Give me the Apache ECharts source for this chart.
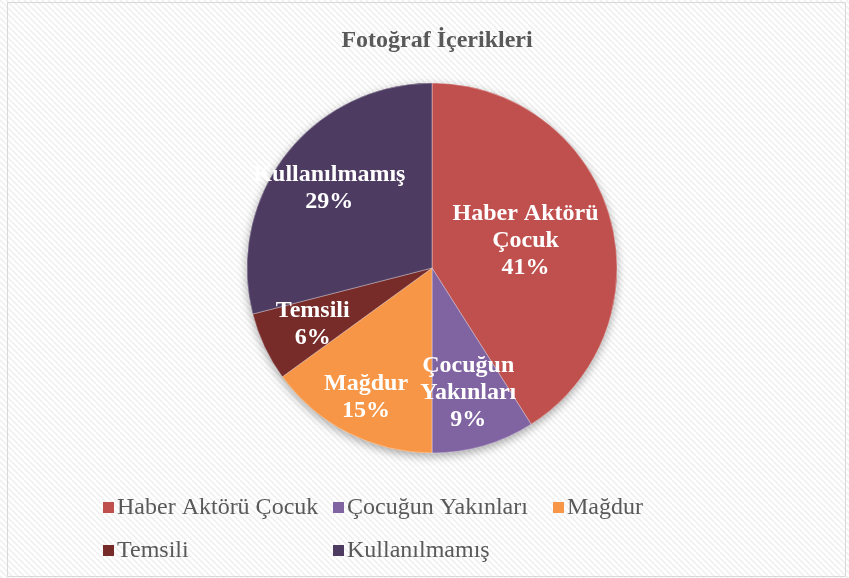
<!DOCTYPE html>
<html>
<head>
<meta charset="utf-8">
<script src="https://cdn.jsdelivr.net/npm/echarts@6/dist/echarts.min.js"></script>
<style>
  html, body { margin: 0; padding: 0; background: #fff; }
  #chart { width: 849px; height: 578px; }
</style>
</head>
<body>
<div id="chart"></div>
<script>
// veriler
const titleText = 'Fotoğraf İçerikleri'
const categories = ['Haber Aktörü Çocuk', 'Çocuğun Yakınları', 'Mağdur', 'Temsili', 'Kullanılmamış']
const percents = [41, 9, 15, 6, 29]

// stil
const colors = ['#C0504D', '#8064A2', '#F79646', '#772C2A', '#4D3B62']
const labelRadius = [0.51, 0.68, 0.76, 0.69, 0.68]   // etiket konumu (yarıçap oranı)
const legendTextWidths = [204, 194, 200, 204, 200]
const PIE_CX = 432
const PIE_CY = 268
const PIE_R = 185
const FONT = '"Liberation Serif", "Times New Roman", serif'

// çizgili arka plan
const makeHatch = () => {
  const c = document.createElement('canvas')
  c.width = 6
  c.height = 6
  const ctx = c.getContext('2d')
  ctx.fillStyle = '#ffffff'
  ctx.fillRect(0, 0, 6, 6)
  ctx.strokeStyle = '#f0f0f0'
  ctx.lineWidth = 1.6
  for (let k = -6; k <= 12; k += 6) {
    ctx.beginPath()
    ctx.moveTo(k, 0)
    ctx.lineTo(k + 6, 6)
    ctx.stroke()
  }
  return c
}

// etiket satır kırma: son kelimeden önce
const wrapName = (name) => {
  const i = name.lastIndexOf(' ')
  return i < 0 ? name : name.slice(0, i) + '\n' + name.slice(i + 1)
}

const pieData = categories.map((name, i) => ({
  name,
  value: percents[i],
  itemStyle: { color: colors[i] }
}))

const chart = echarts.init(document.getElementById('chart'))

chart.setOption({
  backgroundColor: { image: makeHatch(), repeat: 'repeat' },
  title: {
    text: titleText,
    left: PIE_CX,
    textAlign: 'center',
    top: 24,
    textStyle: {
      fontFamily: FONT,
      fontWeight: 'bold',
      fontSize: 24,
      color: '#595959'
    }
  },
  graphic: [{
    type: 'rect',
    shape: { x: 7.5, y: 2.5, width: 838, height: 574 },
    style: { fill: null, stroke: '#d9d9d9', lineWidth: 1 },
    silent: true
  }],
  legend: {
    left: 98,
    top: 487,
    width: 720,
    itemWidth: 11,
    itemHeight: 11,
    itemGap: 12,
    icon: 'rect',
    data: categories.map((name, i) => ({ name, textStyle: { width: legendTextWidths[i] } })),
    textStyle: {
      fontFamily: FONT,
      fontSize: 24,
      color: '#595959',
      lineHeight: 31,
      padding: [0, 0, 0, -2]
    }
  },
  series: [
    {
      // gölge katmanı
      type: 'pie',
      silent: true,
      z: 1,
      center: [PIE_CX, PIE_CY],
      radius: PIE_R,
      startAngle: 90,
      clockwise: true,
      label: { show: false },
      labelLine: { show: false },
      itemStyle: {
        shadowBlur: 10,
        shadowOffsetY: 3,
        shadowColor: 'rgba(0, 0, 0, 0.35)'
      },
      data: pieData
    },
    {
      name: titleText,
      type: 'pie',
      z: 2,
      center: [PIE_CX, PIE_CY],
      radius: PIE_R,
      startAngle: 90,
      clockwise: true,
      itemStyle: {
        borderColor: 'rgba(255,255,255,0.35)',
        borderWidth: 1
      },
      label: {
        show: true,
        position: 'inside',
        fontFamily: FONT,
        fontWeight: 'bold',
        fontSize: 24,
        lineHeight: 27,
        color: '#ffffff',
        formatter: (p) => wrapName(p.name) + '\n' + p.percent.toFixed(0) + '%'
      },
      labelLayout: (params) => {
        const r = params.labelRect
        const lx = r.x + r.width / 2
        const ly = r.y + r.height / 2
        const dx = lx - PIE_CX
        const dy = ly - PIE_CY
        const f = labelRadius[params.dataIndex] / 0.5
        return { x: PIE_CX + dx * f, y: PIE_CY + dy * f }
      },
      labelLine: { show: false },
      emphasis: { scale: false },
      data: pieData
    }
  ]
})
</script>
</body>
</html>
